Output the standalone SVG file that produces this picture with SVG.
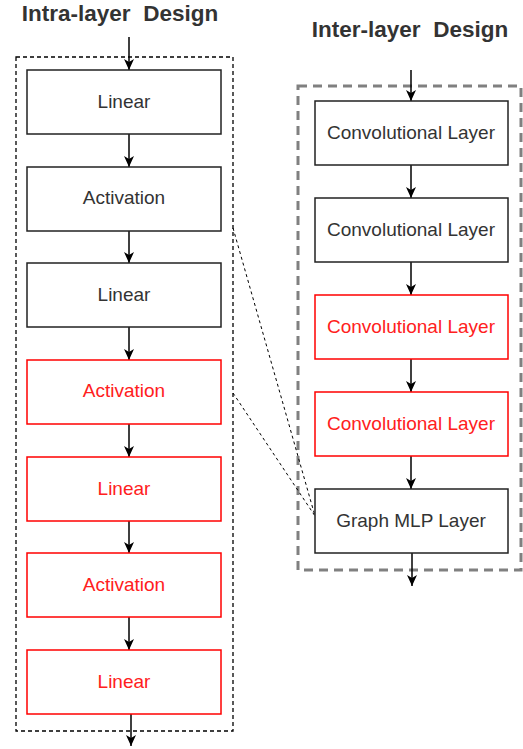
<svg xmlns="http://www.w3.org/2000/svg" width="523" height="749" viewBox="0 0 523 749">
  <style>
    .title { font-family: "Liberation Sans", Arial, sans-serif; font-size: 22.5px; font-weight: bold; fill: #333333; text-anchor: middle; white-space: pre; }
    .lbl { font-family: "Liberation Sans", Arial, sans-serif; font-size: 19px; text-anchor: middle; }
    .box { fill: #ffffff; stroke: #222222; stroke-width: 1.5; }
    .box-red { fill: #ffffff; stroke: #ff0000; stroke-width: 1.5; }
    .txt { fill: #333333; }
    .txt-red { fill: #ff2020; }
    .flow { stroke: #000000; stroke-width: 1.5; fill: none; marker-end: url(#arrow); }
    .group-intra { fill: none; stroke: #000000; stroke-width: 1.3; stroke-dasharray: 4 3; }
    .group-inter { fill: none; stroke: #808080; stroke-width: 3; stroke-dasharray: 9 6; }
    .link { stroke: #000000; stroke-width: 1; stroke-dasharray: 3 3; fill: none; }
  </style>
  <defs>
    <marker id="arrow" markerUnits="userSpaceOnUse" markerWidth="12" markerHeight="12" viewBox="0 0 12 12" refX="11" refY="6" orient="auto">
      <path d="M0,1 L11,6 L0,11 L3,6 z" fill="#000000"/>
    </marker>
  </defs>

  <!-- titles -->
  <text class="title" x="120" y="21" xml:space="preserve">Intra-layer  Design</text>
  <text class="title" x="410" y="37" xml:space="preserve">Inter-layer  Design</text>

  <!-- group frames -->
  <rect id="intra-frame" class="group-intra" x="16" y="57" width="217" height="674"/>
  <rect id="inter-frame" class="group-inter" x="298" y="86" width="223" height="484"/>

  <!-- connectors -->
  <g id="connectors">
    <line class="flow" x1="129" y1="37" x2="129" y2="70"/>
    <line class="flow" x1="129" y1="134" x2="129" y2="167"/>
    <line class="flow" x1="129" y1="231" x2="129" y2="263"/>
    <line class="flow" x1="129" y1="327" x2="129" y2="360"/>
    <line class="flow" x1="129" y1="424" x2="129" y2="457"/>
    <line class="flow" x1="129" y1="521" x2="129" y2="553"/>
    <line class="flow" x1="129" y1="617" x2="129" y2="650"/>
    <line class="flow" x1="131" y1="714" x2="131" y2="746"/>

    <line class="flow" x1="411" y1="70" x2="411" y2="101"/>
    <line class="flow" x1="411" y1="165" x2="411" y2="198"/>
    <line class="flow" x1="411" y1="262" x2="411" y2="295"/>
    <line class="flow" x1="411" y1="359" x2="411" y2="392"/>
    <line class="flow" x1="411" y1="456" x2="411" y2="489"/>
    <line class="flow" x1="412" y1="553" x2="412" y2="586"/>

    <line class="link" x1="233" y1="228" x2="315" y2="516"/>
    <line class="link" x1="233" y1="393" x2="315" y2="516"/>
  </g>

  <!-- intra-layer stack -->
  <g id="intra-linear-1"><rect class="box" x="27" y="70" width="194" height="64"/><text class="lbl txt" x="124" y="108">Linear</text></g>
  <g id="intra-activation-1"><rect class="box" x="27" y="167" width="194" height="64"/><text class="lbl txt" x="124" y="204">Activation</text></g>
  <g id="intra-linear-2"><rect class="box" x="27" y="263" width="194" height="64"/><text class="lbl txt" x="124" y="301">Linear</text></g>
  <g id="intra-activation-2"><rect class="box-red" x="27" y="360" width="194" height="64"/><text class="lbl txt-red" x="124" y="397">Activation</text></g>
  <g id="intra-linear-3"><rect class="box-red" x="27" y="457" width="194" height="64"/><text class="lbl txt-red" x="124" y="495">Linear</text></g>
  <g id="intra-activation-3"><rect class="box-red" x="27" y="553" width="194" height="64"/><text class="lbl txt-red" x="124" y="591">Activation</text></g>
  <g id="intra-linear-4"><rect class="box-red" x="27" y="650" width="194" height="64"/><text class="lbl txt-red" x="124" y="688">Linear</text></g>

  <!-- inter-layer stack -->
  <g id="inter-conv-1"><rect class="box" x="315" y="101" width="193" height="64"/><text class="lbl txt" x="411" y="139">Convolutional Layer</text></g>
  <g id="inter-conv-2"><rect class="box" x="315" y="198" width="193" height="64"/><text class="lbl txt" x="411" y="236">Convolutional Layer</text></g>
  <g id="inter-conv-3"><rect class="box-red" x="315" y="295" width="193" height="64"/><text class="lbl txt-red" x="411" y="333">Convolutional Layer</text></g>
  <g id="inter-conv-4"><rect class="box-red" x="315" y="392" width="193" height="64"/><text class="lbl txt-red" x="411" y="430">Convolutional Layer</text></g>
  <g id="inter-graph-mlp"><rect class="box" x="315" y="489" width="193" height="64"/><text class="lbl txt" x="411" y="527">Graph MLP Layer</text></g>
</svg>
